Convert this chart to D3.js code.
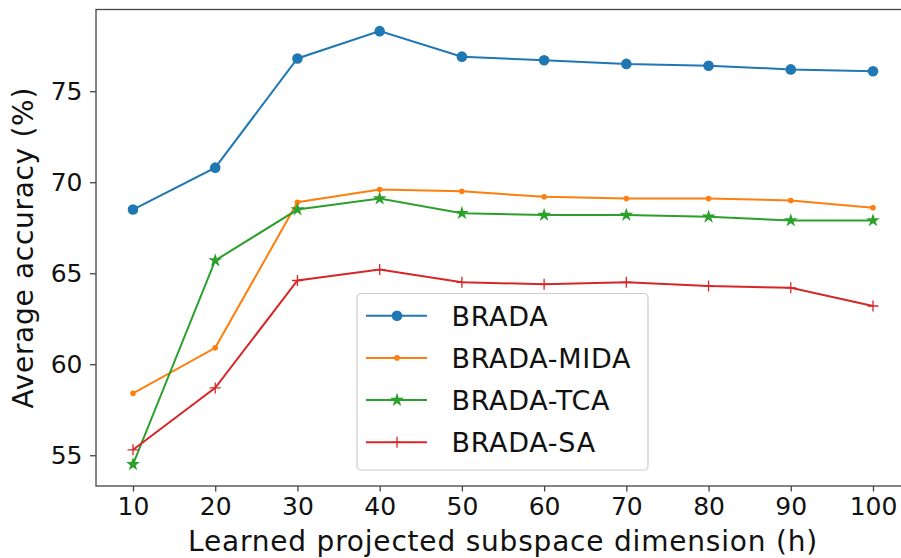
<!DOCTYPE html>
<html>
<head>
  <script src="https://d3js.org/d3.v7.min.js"></script>
  <style>
    body { margin: 0; background: #fff; overflow: hidden; }
    svg { font-family: "DejaVu Sans", sans-serif; display: block; }
  </style>
  <title>Average accuracy</title>
</head>
<body>
  <script>
    // Data
    const dims = [10, 20, 30, 40, 50, 60, 70, 80, 90, 100];
    const brada = [68.5, 70.8, 76.8, 78.3, 76.9, 76.7, 76.5, 76.4, 76.2, 76.1];
    const bradaMida = [58.4, 60.9, 68.9, 69.6, 69.5, 69.2, 69.1, 69.1, 69.0, 68.6];
    const bradaTca = [54.5, 65.7, 68.5, 69.1, 68.3, 68.2, 68.2, 68.1, 67.9, 67.9];
    const bradaSa = [55.3, 58.7, 64.6, 65.2, 64.5, 64.4, 64.5, 64.3, 64.2, 63.2];
    const seriesNames = ["BRADA", "BRADA-MIDA", "BRADA-TCA", "BRADA-SA"];
    const yTicks = [55, 60, 65, 70, 75];

    const series = [
      { name: seriesNames[0], values: brada, color: "#1f77b4", marker: "circle" },
      { name: seriesNames[1], values: bradaMida, color: "#ff7f0e", marker: "dot" },
      { name: seriesNames[2], values: bradaTca, color: "#2ca02c", marker: "star" },
      { name: seriesNames[3], values: bradaSa, color: "#d62728", marker: "plus" }
    ];

    const W = 901, H = 558;
    const pLeft = 96, pTop = 9.5, pRight = 910, pBottom = 486;

    const x = d3.scaleLinear().domain([5.5, 104.5]).range([pLeft, pRight]);
    const y = d3.scaleLinear().domain([53.31, 79.49]).range([pBottom, pTop]);

    const svg = d3.select("body").append("svg")
      .attr("width", W).attr("height", H);

    // frame
    svg.append("rect")
      .attr("x", pLeft).attr("y", pTop)
      .attr("width", pRight - pLeft).attr("height", pBottom - pTop)
      .attr("fill", "none").attr("stroke", "#444").attr("stroke-width", 1.3);

    // axes
    const xAxis = svg.append("g")
      .attr("transform", "translate(0," + pBottom + ")")
      .call(d3.axisBottom(x).tickValues(dims).tickSize(5.5).tickPadding(5.5));
    const yAxis = svg.append("g")
      .attr("transform", "translate(" + pLeft + ",0)")
      .call(d3.axisLeft(y).tickValues(yTicks).tickSize(6).tickPadding(7.5));

    [xAxis, yAxis].forEach(function (g) {
      g.select(".domain").remove();
      g.selectAll("line").attr("stroke", "#444").attr("stroke-width", 1.3);
      g.selectAll("text")
        .attr("fill", "#111")
        .style("font-size", "25px")
        .style("font-family", "DejaVu Sans");
    });

    // axis labels
    svg.append("text")
      .attr("x", (pLeft + pRight) / 2).attr("y", 551)
      .attr("text-anchor", "middle")
      .attr("fill", "#111")
      .style("font-size", "28px")
      .style("letter-spacing", "0.8px")
      .text("Learned projected subspace dimension (h)");

    svg.append("text")
      .attr("transform", "translate(33," + ((pTop + pBottom) / 2) + ") rotate(-90)")
      .attr("text-anchor", "middle")
      .attr("fill", "#111")
      .style("font-size", "28px")
      .style("letter-spacing", "0.7px")
      .text("Average accuracy (%)");

    const star = d3.symbol().type(d3.symbolStar).size(60);

    function drawMarker(g, type, color) {
      if (type === "circle") {
        g.append("circle").attr("r", 5.3).attr("fill", color);
      } else if (type === "dot") {
        g.append("circle").attr("r", 2.8).attr("fill", color);
      } else if (type === "star") {
        g.append("path").attr("d", star()).attr("fill", color);
      } else {
        g.append("path").attr("d", "M-5.5,0H5.5M0,-5.5V5.5")
          .attr("stroke", color).attr("stroke-width", 1.3).attr("fill", "none");
      }
    }

    const line = d3.line()
      .x(function (d, i) { return x(dims[i]); })
      .y(function (d) { return y(d); });

    series.forEach(function (s) {
      svg.append("path")
        .datum(s.values)
        .attr("d", line)
        .attr("fill", "none")
        .attr("stroke", s.color)
        .attr("stroke-width", 2);

      s.values.forEach(function (v, i) {
        const g = svg.append("g")
          .attr("transform", "translate(" + x(dims[i]) + "," + y(v) + ")");
        drawMarker(g, s.marker, s.color);
      });
    });

    // legend
    const legend = svg.append("g");
    legend.append("rect")
      .attr("x", 357).attr("y", 293.5)
      .attr("width", 291).attr("height", 176.5)
      .attr("rx", 4)
      .attr("fill", "#fff").attr("fill-opacity", 0.8)
      .attr("stroke", "#ccc").attr("stroke-width", 1.2);

    series.forEach(function (s, i) {
      const cy = 315.7 + i * 42.2;
      legend.append("line")
        .attr("x1", 366).attr("x2", 427)
        .attr("y1", cy).attr("y2", cy)
        .attr("stroke", s.color).attr("stroke-width", 2);
      const g = legend.append("g").attr("transform", "translate(397," + cy + ")");
      drawMarker(g, s.marker, s.color);
      legend.append("text")
        .attr("x", 451.5).attr("y", cy + 9.8)
        .attr("fill", "#111")
        .style("font-size", "27px")
        .style("letter-spacing", "0.7px")
        .text(s.name);
    });
  </script>
</body>
</html>
